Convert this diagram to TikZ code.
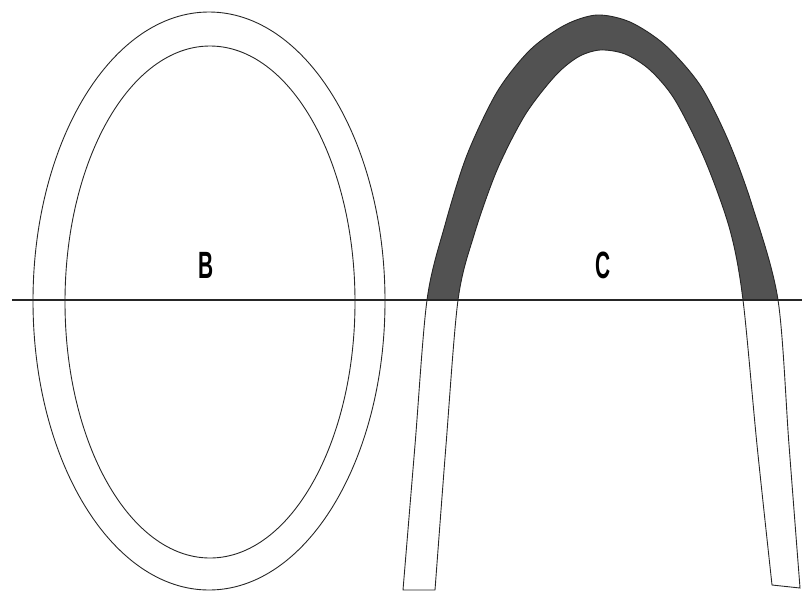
\documentclass[tikz,border=0pt]{standalone}
\usepackage{fontspec}
\setsansfont{Liberation Sans}
\usetikzlibrary{positioning}

\tikzset{
    rim/.style={line width=0.9pt, black!85},
    band/.style={fill=black!68},
    letter/.style={font=\fontsize{38}{40}\selectfont\sffamily\bfseries, inner sep=0pt}
}

\begin{document}
\begin{tikzpicture}[x=1pt, y=-1pt]
    \useasboundingbox (0,0) rectangle (802,592);

    % ring B
    \draw[rim] (209,301) ellipse [x radius=176pt, y radius=289pt];
    \draw[rim] (210,302) ellipse [x radius=145pt, y radius=256pt];

    % arch C, shaded above the line
    \begin{scope}
        \clip (380,0) rectangle (802,300);
        \fill[band] plot[smooth] coordinates {(403,590) (415,445) (427,300) (445,225) (467,155) (497,92) (530,50) (565,25) (597,15) (630,22) (665,45) (700,85) (728,140) (752,205) (778,300) (789,445) (800,588)}
            -- plot[smooth] coordinates {(772,585) (757,445) (743,300) (730,230) (705,160) (675,100) (650,70) (625,54) (600,50) (578,57) (555,76) (525,115) (497,170) (474,235) (458,300) (446,445) (435,590)}
            -- cycle;
    \end{scope}
    \draw[rim] plot[smooth] coordinates {(403,590) (415,445) (427,300) (445,225) (467,155) (497,92) (530,50) (565,25) (597,15) (630,22) (665,45) (700,85) (728,140) (752,205) (778,300) (789,445) (800,588)}
        -- plot[smooth] coordinates {(772,585) (757,445) (743,300) (730,230) (705,160) (675,100) (650,70) (625,54) (600,50) (578,57) (555,76) (525,115) (497,170) (474,235) (458,300) (446,445) (435,590)}
        -- cycle;

    % cutting line
    \draw[line width=1.8pt, black!85] (12,300) -- (802,300);

    \node[letter] (lblB) at (206,265) {\scalebox{0.55}[1]{B}};
    \node[letter] (lblC) at (603,265) {\scalebox{0.55}[1]{C}};
\end{tikzpicture}
\end{document}
